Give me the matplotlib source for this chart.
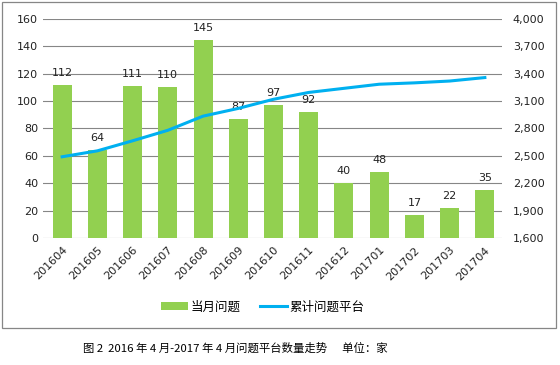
import numpy as np
import matplotlib.pyplot as plt
from matplotlib.patches import Rectangle
from matplotlib.ticker import FuncFormatter

plt.rcParams['font.family'] = ['DejaVu Sans', 'Noto Sans CJK SC']

months = ['201604', '201605', '201606', '201607', '201608', '201609', '201610',
          '201611', '201612', '201701', '201702', '201703', '201704']
monthly = [112, 64, 111, 110, 145, 87, 97, 92, 40, 48, 17, 22, 35]
cumulative = [2490, 2555, 2665, 2780, 2935, 3020, 3120, 3195, 3240, 3285, 3300, 3320, 3358]

green = '#92D050'
blue = '#00B0F0'
grid_c = '#868686'
cjk = ['Noto Sans CJK SC', 'DejaVu Sans']

fig = plt.figure(figsize=(5.6, 3.65), dpi=100)
ax = fig.add_axes([0.077, 0.348, 0.819, 0.600])
x = np.arange(len(months))

ax.bar(x, monthly, width=0.54, color=green, zorder=3, label='当月问题')
for xi, v in zip(x, monthly):
    ax.annotate(str(v), (xi, v), xytext=(0, 5), textcoords='offset points',
                ha='center', va='bottom', fontsize=8, color='#222222')

ax.set_ylim(0, 160)
ax.set_yticks(range(0, 161, 20))
ax.set_xlim(-0.54, 12.48)
ax.set_xticks(x)
ax.set_xticklabels(months, rotation=45, ha='right', rotation_mode='anchor', fontsize=8)
ax.yaxis.grid(True, color=grid_c, linewidth=0.8, zorder=0)
ax.tick_params(length=0, labelsize=8, colors='#222222')
ax.tick_params(axis='x', pad=5)
for s in ax.spines.values():
    s.set_visible(False)

ax2 = ax.twinx()
ax2.plot(x, cumulative, color=blue, linewidth=2.2, zorder=4, label='累计问题平台')
ax2.set_ylim(1600, 4000)
ax2.set_yticks(range(1600, 4001, 300))
ax2.yaxis.set_major_formatter(FuncFormatter(lambda v, p: f'{int(v):,}'))
ax2.tick_params(length=0, labelsize=8, colors='#222222', pad=8)
for s in ax2.spines.values():
    s.set_visible(False)

h1, l1 = ax.get_legend_handles_labels()
h2, l2 = ax2.get_legend_handles_labels()
fig.legend(h1 + h2, l1 + l2, loc='center', bbox_to_anchor=(0.469, 0.159), ncol=2,
           frameon=False, prop={'family': cjk, 'size': 9}, handlelength=2.2,
           handleheight=0.6, columnspacing=1.5, handletextpad=0.2)

fig.patches.append(Rectangle((2 / 560, 37 / 365), 554 / 560, 326 / 365,
                             transform=fig.transFigure, fill=False,
                             edgecolor=grid_c, linewidth=0.9))

fig.text(0.42, 0.047, '图 2  2016 年 4 月-2017 年 4 月问题平台数量走势      单位：家',
         ha='center', va='center', fontsize=8.2, family=cjk)

fig.savefig('out.png', dpi=100)
